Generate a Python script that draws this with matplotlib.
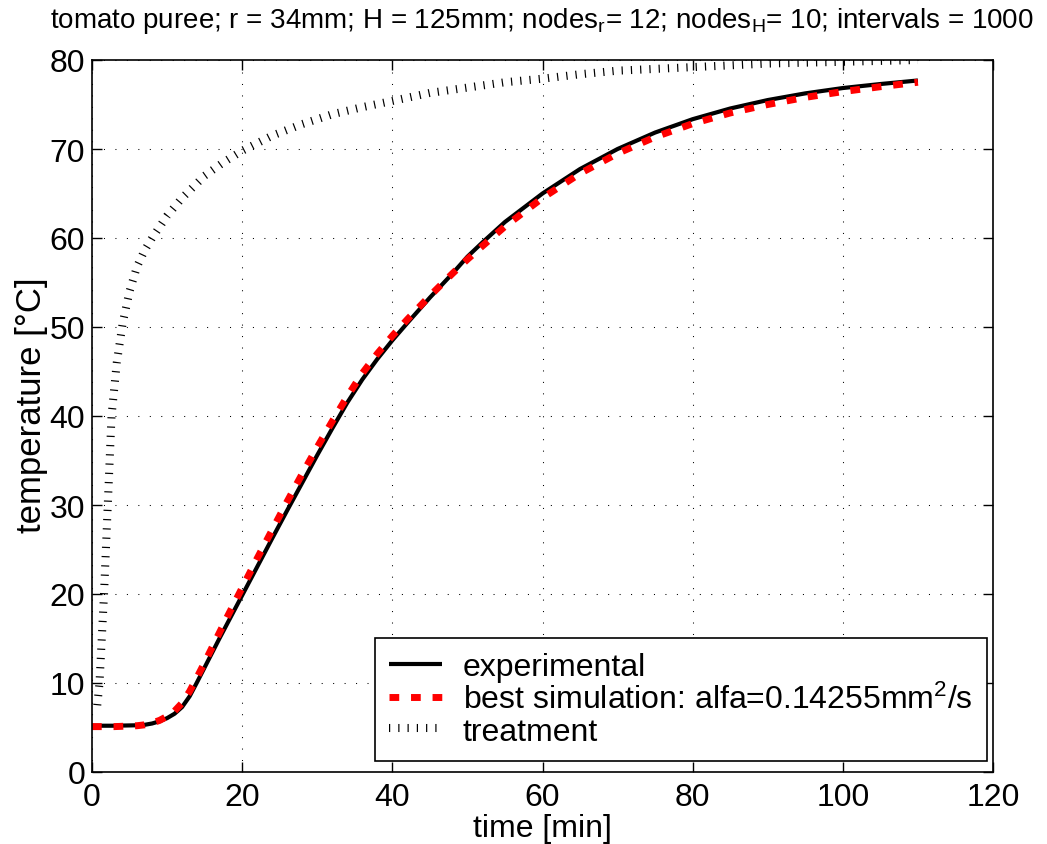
import matplotlib
matplotlib.use('Agg')
import matplotlib.pyplot as plt

# experimental temperature [degC] vs time [min]
exp_time = [0, 3, 6, 7, 8, 9, 10, 11, 12, 13, 14, 15, 16, 17, 18, 19, 20, 22, 24,
            26, 28, 30, 32, 34, 36, 38, 40, 42, 45, 48, 50, 52, 55, 60, 65, 70, 75,
            80, 85, 90, 95, 100, 105, 110]
exp_temp = [5.2, 5.2, 5.25, 5.3, 5.45, 5.7, 6.05, 6.55, 7.3, 8.5, 10.1, 11.75,
            13.4, 15.05, 16.65, 18.25, 19.85, 23.05, 26.25, 29.4, 32.5, 35.6, 38.6,
            41.5, 44.1, 46.4, 48.5, 50.45, 53.3, 56.0, 57.9, 59.5, 61.8, 65.0, 67.75,
            70.0, 71.85, 73.35, 74.55, 75.5, 76.25, 76.85, 77.3, 77.7]

# best simulation
sim_time = [0, 3, 6, 7, 8, 9, 10, 11, 12, 13, 14, 15, 16, 17, 18, 19, 20, 22, 24,
            26, 28, 30, 32, 34, 36, 38, 40, 42, 45, 48, 50, 52, 55, 60, 65, 70, 75,
            80, 85, 90, 95, 100, 105, 110]
sim_temp = [5.1, 5.1, 5.2, 5.3, 5.5, 5.8, 6.25, 6.85, 7.75, 9.05, 10.65, 12.3,
            14.0, 15.7, 17.4, 19.05, 20.7, 24.0, 27.2, 30.4, 33.5, 36.5, 39.4,
            42.2, 44.8, 47.0, 49.0, 50.85, 53.5, 56.0, 57.6, 59.1, 61.3, 64.5,
            67.25, 69.5, 71.35, 72.85, 74.05, 75.0, 75.8, 76.45, 77.0, 77.5]

# treatment (retort) temperature
trt_time = [0.7, 1.0, 1.3, 1.6, 2.1, 2.6, 3.3, 4.1, 5.0, 6.0, 7.0, 8.0, 10, 12, 15,
            17.5, 20, 24, 28, 32, 36, 40, 45, 50, 55, 60, 65, 70, 75, 80, 85, 90,
            95, 100, 105, 110]
trt_temp = [7.5, 10, 15, 20, 30, 40, 46, 50.5, 54, 56.8, 58.6, 60, 62.5, 64.5, 67.0,
            68.5, 69.8, 71.5, 72.8, 73.9, 74.7, 75.4, 76.3, 76.9, 77.5, 77.9, 78.4,
            78.8, 79.0, 79.2, 79.4, 79.6, 79.7, 79.8, 79.9, 80.0]

plt.rcParams['font.family'] = ['Liberation Sans', 'DejaVu Sans']
plt.rcParams['mathtext.fontset'] = 'custom'
plt.rcParams['mathtext.rm'] = 'Liberation Sans'
plt.rcParams['mathtext.it'] = 'Liberation Sans'

W, H = 1047, 845
fig = plt.figure(figsize=(W / 100, H / 100), dpi=100)
# axes box in pixels: left 92, right 993, top 61, bottom 773
ax = fig.add_axes([92 / W, 1 - 773 / H, (993 - 92) / W, (773 - 61) / H])

ax.plot(exp_time, exp_temp, color='black', lw=3, solid_capstyle='butt',
        label='experimental')
ax.plot(sim_time, sim_temp, color='red', lw=5, dashes=(1.4, 1.7),
        dash_capstyle='butt', label='best simulation: alfa=0.14255mm$^2$/s')
ax.plot(trt_time, trt_temp, color='black', lw=5.8, dashes=(0.15, 1.0),
        dash_capstyle='butt', label='treatment')

ax.set_xlim(0, 120)
ax.set_ylim(0, 80)
ax.set_xticks(range(0, 121, 20))
ax.set_yticks(range(0, 81, 10))
ax.grid(True, color='black', lw=0.75, linestyle=(0, (1, 10)))
ax.tick_params(direction='in', length=7, width=1, top=True, right=True,
               labelsize=23)
ax.tick_params(axis='x', pad=7)
ax.tick_params(axis='y', pad=5)
for s in ax.spines.values():
    s.set_linewidth(1.2)

ax.set_xlabel('time [min]', fontsize=23)
ax.xaxis.set_label_coords(0.5, (773 - 814) / 712)
ax.set_ylabel('temperature [\u00b0C]', fontsize=25)
ax.yaxis.set_label_coords((48 - 92) / 901, 0.517)

fig.text(542 / W, 1 - 28 / H,
         'tomato puree; r = 34mm; H = 125mm; nodes$_\\mathrm{r}$= 12; '
         'nodes$_\\mathrm{H}$= 10; intervals = 1000',
         fontsize=20, ha='center', va='baseline')

leg = ax.legend(loc='lower right', bbox_to_anchor=((987 - 92) / 901, 11 / 712),
                fontsize=23, frameon=True, fancybox=False, edgecolor='black',
                framealpha=1, handlelength=1.65, borderaxespad=0,
                labelspacing=0.05, handletextpad=0.65, borderpad=0.45)
leg.get_frame().set_linewidth(1.2)

fig.savefig('out.png', dpi=100)
